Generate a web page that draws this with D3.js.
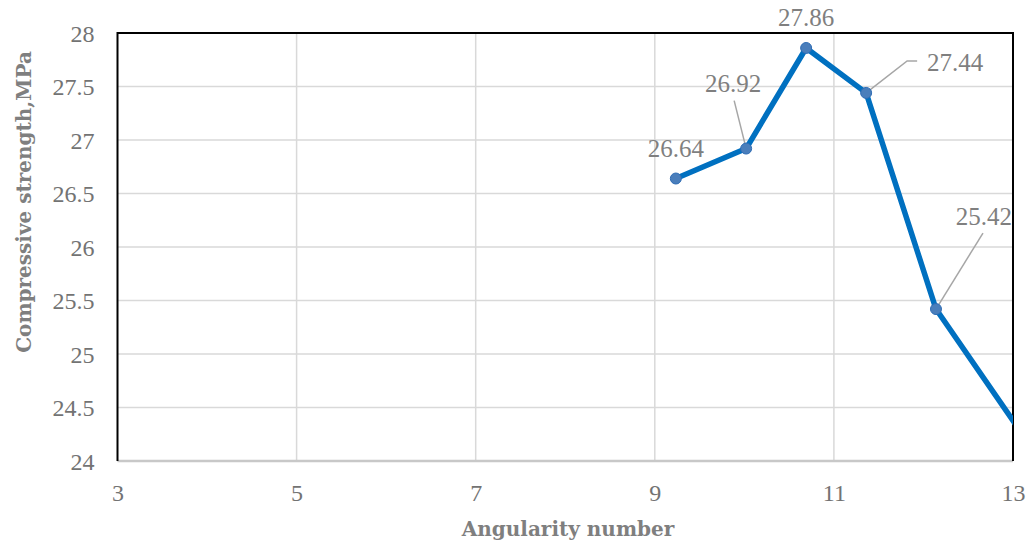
<!DOCTYPE html>
<html>
<head>
<meta charset="utf-8">
<script src="https://cdn.jsdelivr.net/npm/d3@7"></script>
<style>
  html, body { margin: 0; padding: 0; background: #fff; }
  svg { display: block; }
</style>
</head>
<body>
<div id="chart"></div>
<script>
// series
const angularity = [9.235, 10.02, 10.69, 11.36, 12.14, 13.5];
const strength = [26.64, 26.92, 27.86, 27.44, 25.42, 23.77];
const labelText = ["26.64", "26.92", "27.86", "27.44", "25.42", ""];

const xTicks = [3, 5, 7, 9, 11, 13];
const yTicks = [24, 24.5, 25, 25.5, 26, 26.5, 27, 27.5, 28];

// where each data label sits relative to its point (dx, dy to baseline centre)
const labelLayout = [
    { dx: 0, dy: -22, leader: null },
    { dx: -13, dy: -57, leader: [[-12, -48]] },
    { dx: 0, dy: -22, leader: null },
    { dx: 89, dy: -22, leader: [[41, -32], [51, -32]] },
    { dx: 48, dy: -84, leader: [[47, -76]] },
    null
];

const W = 1031, H = 545;
const margin = { top: 33, right: 18, bottom: 84, left: 117.5 };
const width = W - margin.left - margin.right;
const height = H - margin.top - margin.bottom;

const svg = d3.select("#chart")
    .append("svg")
        .attr("width", W)
        .attr("height", H);

const g = svg.append("g")
    .attr("transform", `translate(${margin.left},${margin.top})`);

const x = d3.scaleLinear().domain([3, 13]).range([0, width]);
const y = d3.scaleLinear().domain([24, 28]).range([height, 0]);

// gridlines
g.append("g")
    .selectAll("line")
    .data(yTicks)
    .enter()
    .append("line")
        .attr("x1", 0)
        .attr("x2", width)
        .attr("y1", d => y(d))
        .attr("y2", d => y(d))
        .attr("stroke", "#d9d9d9")
        .attr("stroke-width", 1.5);
g.append("g")
    .selectAll("line")
    .data(xTicks.slice(1, -1))
    .enter()
    .append("line")
        .attr("x1", d => x(d))
        .attr("x2", d => x(d))
        .attr("y1", 0)
        .attr("y2", height)
        .attr("stroke", "#d9d9d9")
        .attr("stroke-width", 1.5);

// axes (labels only, the frame is drawn below)
const tickFont = "'Liberation Serif', 'Times New Roman', serif";
const yAxis = g.append("g")
    .call(d3.axisLeft(y).tickValues(yTicks).tickSize(0).tickPadding(23).tickFormat(d3.format("")));
const xAxis = g.append("g")
    .attr("transform", `translate(0,${height})`)
    .call(d3.axisBottom(x).tickValues(xTicks).tickSize(0).tickPadding(23));
[yAxis, xAxis].forEach(a => {
    a.attr("font-family", tickFont).attr("font-size", 24);
    a.select(".domain").remove();
    a.selectAll("text")
        .attr("fill", "#737373")
        .style("font-family", tickFont)
        .style("font-size", "24px");
});
yAxis.selectAll("text").attr("dy", "0.34em");
xAxis.selectAll("text").attr("dy", "0.72em");

// frame
g.append("line")
    .attr("x1", 0).attr("x2", width)
    .attr("y1", height).attr("y2", height)
    .attr("stroke", "#c8c8c8")
    .attr("stroke-width", 2.5);
g.append("path")
    .attr("d", `M0,${height}V0H${width}V${height}`)
    .attr("fill", "none")
    .attr("stroke", "#000")
    .attr("stroke-width", 2);

// series line, clipped to the plot area
svg.append("defs").append("clipPath")
    .attr("id", "plotClip")
    .append("rect")
        .attr("x", 0).attr("y", -10)
        .attr("width", width).attr("height", height + 10);

const points = angularity.map((a, i) => ({ x: a, y: strength[i], label: labelText[i], layout: labelLayout[i] }));
const inside = points.filter(d => d.x <= 13);

g.append("path")
    .datum(points)
    .attr("clip-path", "url(#plotClip)")
    .attr("fill", "none")
    .attr("stroke", "#0070c0")
    .attr("stroke-width", 5.5)
    .attr("stroke-linejoin", "round")
    .attr("d", d3.line().x(d => x(d.x)).y(d => y(d.y)));

// leader lines
g.selectAll(".leader")
    .data(inside.filter(d => d.layout && d.layout.leader))
    .enter()
    .append("polyline")
        .attr("class", "leader")
        .attr("fill", "none")
        .attr("stroke", "#a6a6a6")
        .attr("stroke-width", 1.5)
        .attr("points", d => {
            let px = x(d.x), py = y(d.y);
            return [[px, py]].concat(d.layout.leader.map(p => [px + p[0], py + p[1]]))
                .map(p => p.join(",")).join(" ");
        });

// markers
g.selectAll(".dot")
    .data(inside)
    .enter()
    .append("circle")
        .attr("class", "dot")
        .attr("cx", d => x(d.x))
        .attr("cy", d => y(d.y))
        .attr("r", 5.5)
        .attr("fill", "#4a7ebb")
        .attr("stroke", "#2f6db5")
        .attr("stroke-width", 1);

// data labels
g.selectAll(".dlabel")
    .data(inside.filter(d => d.layout))
    .enter()
    .append("text")
        .attr("class", "dlabel")
        .attr("x", d => x(d.x) + d.layout.dx)
        .attr("y", d => y(d.y) + d.layout.dy)
        .attr("text-anchor", "middle")
        .attr("fill", "#7f7f7f")
        .style("font-family", tickFont)
        .style("font-size", "25px")
        .text(d => d.label);

// axis titles
const titleFont = "'DejaVu Serif', serif";
svg.append("text")
    .attr("x", 568)
    .attr("y", 536)
    .attr("text-anchor", "middle")
    .attr("fill", "#7f7f7f")
    .style("font-family", titleFont)
    .style("font-weight", "bold")
    .style("font-size", "20px")
    .text("Angularity number");
svg.append("text")
    .attr("transform", "translate(31,202) rotate(-90)")
    .attr("text-anchor", "middle")
    .attr("fill", "#7f7f7f")
    .style("font-family", titleFont)
    .style("font-weight", "bold")
    .style("font-size", "20px")
    .text("Compressive strength,MPa");
</script>
</body>
</html>
